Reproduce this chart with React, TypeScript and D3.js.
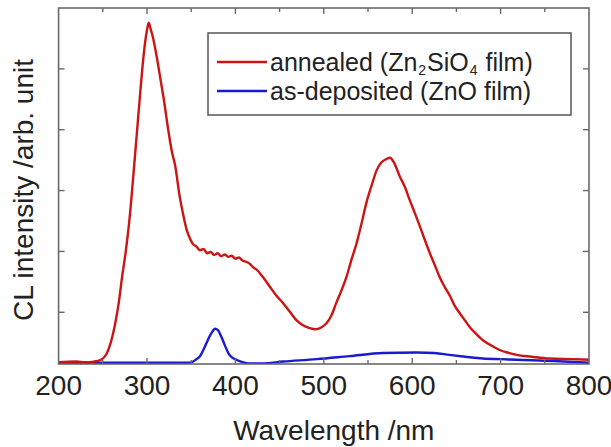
import * as d3 from "d3";

// wavelength (nm) / intensity (arb.)
const annealedNm = [200, 220, 230, 240, 248, 254, 259, 264, 268, 272, 276, 280, 284, 288, 292, 295, 298, 300, 302, 304, 307, 311, 315, 319, 324, 328, 332, 337, 341, 345, 349, 352, 356, 360, 364, 368, 372, 376, 380, 384, 388, 392, 396, 400, 404, 408, 412, 416, 420, 424, 430, 439, 446, 454, 462, 469, 476, 484, 491, 497, 503, 509, 514, 520, 526, 531, 537, 543, 548, 554, 560, 565, 571, 575, 579, 586, 592, 597, 603, 609, 614, 620, 626, 631, 637, 643, 648, 654, 660, 665, 672, 680, 690, 699, 710, 718, 735, 755, 780, 800];
const annealedI = [0.18, 0.19, 0.18, 0.19, 0.22, 0.31, 0.5, 0.81, 1.15, 1.6, 2.0, 2.5, 3.15, 3.85, 4.55, 5.05, 5.45, 5.64, 5.76, 5.66, 5.5, 5.2, 4.85, 4.5, 4.0, 3.65, 3.4, 2.9, 2.6, 2.35, 2.2, 2.12, 2.08, 2.02, 2.04, 1.97, 1.99, 1.94, 1.97, 1.92, 1.95, 1.91, 1.93, 1.88, 1.9, 1.85, 1.83, 1.8, 1.74, 1.7, 1.6, 1.42, 1.28, 1.15, 1.0, 0.87, 0.79, 0.74, 0.72, 0.75, 0.82, 0.96, 1.15, 1.36, 1.6, 1.85, 2.13, 2.48, 2.79, 3.08, 3.34, 3.46, 3.52, 3.54, 3.47, 3.23, 3.05, 2.85, 2.63, 2.4, 2.2, 1.97, 1.76, 1.58, 1.41, 1.26, 1.11, 0.98, 0.86, 0.76, 0.65, 0.54, 0.45, 0.38, 0.33, 0.3, 0.27, 0.24, 0.23, 0.22];

const depositedNm = [200, 250, 300, 340, 349, 355, 360, 365, 369, 373, 377, 380, 384, 388, 392, 396, 401, 408, 416, 430, 454, 492, 529, 567, 605, 625, 642, 660, 680, 700, 718, 760, 800];
const depositedI = [0.17, 0.17, 0.17, 0.17, 0.17, 0.22, 0.28, 0.42, 0.55, 0.66, 0.73, 0.71, 0.6, 0.46, 0.33, 0.26, 0.22, 0.18, 0.16, 0.16, 0.19, 0.23, 0.28, 0.33, 0.34, 0.33, 0.3, 0.27, 0.24, 0.23, 0.22, 0.2, 0.17];

const xTicks = [200, 300, 400, 500, 600, 700, 800];
const yTicks = [1, 2, 3, 4, 5];

const W = 611;
const H = 447;
const left = 58.6;
const right = 589;
const top = 8;
const bottom = 364;

// legend label pieces: [text, isSubscript]
const annealedParts: [string, boolean][] = [
  ["annealed (Zn", false],
  ["2", true],
  ["SiO", false],
  ["4", true],
  [" film)", false],
];

export default function App() {
  const x = d3.scaleLinear().domain([200, 800]).range([left, right]);
  const y = d3.scaleLinear().domain([0.15, 6]).range([bottom, top]);

  const line = d3
    .line<[number, number]>()
    .x((d) => x(d[0]))
    .y((d) => y(d[1]))
    .curve(d3.curveMonotoneX);

  const red = annealedNm.map((n, i) => [n, annealedI[i]] as [number, number]);
  const blue = depositedNm.map((n, i) => [n, depositedI[i]] as [number, number]);

  const minorX = d3.range(250, 800, 50);
  const font = "Liberation Sans, Arial, sans-serif";
  const axisColor = "#6a6a6a";

  // measure pieces so the subscripts sit next to the normal text
  const ctx = document.createElement("canvas").getContext("2d");
  const measure = (s: string, size: number) => {
    if (!ctx) return s.length * size * 0.55;
    ctx.font = `${size}px ${font}`;
    return ctx.measureText(s).width;
  };
  const legendSize = 25;
  const subSize = 14;
  let cursor = 270;
  const pieces = annealedParts.map(([s, sub]) => {
    const size = sub ? subSize : legendSize;
    if (sub) cursor += 1;
    const p = { s, sub, x: cursor, size };
    cursor += measure(s, size) + (sub ? 1 : 0);
    return p;
  });

  return (
    <svg
      width={W}
      height={H}
      style={{ position: "absolute", left: 0, top: 0, background: "#fff" }}
      fontFamily={font}
    >
      <defs>
        <clipPath id="plot">
          <rect x={left} y={top} width={right - left} height={bottom - top} />
        </clipPath>
      </defs>

      {/* curves */}
      <g clipPath="url(#plot)" fill="none" strokeWidth={2.4} strokeLinejoin="round">
        <path d={line(blue) || ""} stroke="#1a1ad0" />
        <path d={line(red) || ""} stroke="#cc1414" />
      </g>

      {/* frame + ticks */}
      <rect x={left} y={top} width={right - left} height={bottom - top} fill="none" stroke={axisColor} strokeWidth={1.6} />
      {minorX.map((v) => (
        <g key={v} stroke={axisColor} strokeWidth={1.4}>
          <line x1={x(v)} x2={x(v)} y1={bottom} y2={bottom - (v % 100 === 0 ? 6 : 4)} />
          <line x1={x(v)} x2={x(v)} y1={top} y2={top + (v % 100 === 0 ? 6 : 4)} />
        </g>
      ))}
      {yTicks.map((v) => (
        <g key={v} stroke={axisColor} strokeWidth={1.4}>
          <line x1={left} x2={left + 6} y1={y(v)} y2={y(v)} />
          <line x1={right} x2={right - 6} y1={y(v)} y2={y(v)} />
        </g>
      ))}

      {/* tick labels */}
      {xTicks.map((v) => (
        <text key={v} x={x(v)} y={395} textAnchor="middle" fontSize={28} fill="#222">
          {v}
        </text>
      ))}

      <text x={(left + right) / 2 + 10} y={440} textAnchor="middle" fontSize={28} fill="#222">
        Wavelength /nm
      </text>
      <text
        transform={`translate(33,${(top + bottom) / 2 + 4}) rotate(-90)`}
        textAnchor="middle"
        fontSize={28}
        fill="#222"
      >
        CL intensity /arb. unit
      </text>

      {/* legend */}
      <rect x={208} y={33} width={363} height={82} fill="#fff" stroke="#555" strokeWidth={1.5} />
      <line x1={217} x2={267} y1={62} y2={62} stroke="#cc1414" strokeWidth={2.4} />
      <line x1={217} x2={267} y1={91} y2={91} stroke="#1a1ad0" strokeWidth={2.4} />
      {pieces.map((p, i) => (
        <text key={i} x={p.x} y={p.sub ? 75 : 71} fontSize={p.size} fill="#222" style={{ whiteSpace: "pre" }}>
          {p.s}
        </text>
      ))}
      <text x={270} y={100} fontSize={legendSize} fill="#222">
        as-deposited (ZnO film)
      </text>
    </svg>
  );
}
